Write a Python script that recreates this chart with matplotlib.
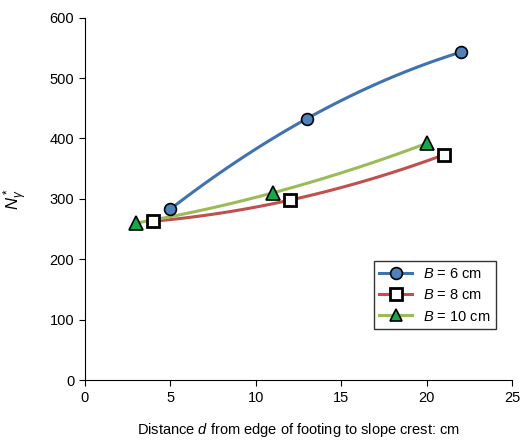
import numpy as np
import matplotlib.pyplot as plt

plt.rcParams['font.family'] = ['Liberation Sans', 'DejaVu Sans']
plt.rcParams['mathtext.fontset'] = 'custom'
plt.rcParams['mathtext.it'] = 'Liberation Sans:italic'
plt.rcParams['mathtext.rm'] = 'Liberation Sans'

x_b6 = [5, 13, 22]
y_b6 = [283, 433, 543]
x_b8 = [4, 12, 21]
y_b8 = [263, 298, 373]
x_b10 = [3, 11, 20]
y_b10 = [260, 310, 392]

series = [
    (x_b6, y_b6, '#3f72b0', 'o', '#4f81bd', '$B$ = 6 cm'),
    (x_b8, y_b8, '#c0504d', 's', 'white', '$B$ = 8 cm'),
    (x_b10, y_b10, '#9bbb59', '^', '#1aa64a', '$B$ = 10 cm'),
]

fig = plt.figure(figsize=(5.2, 4.42), dpi=100)
ax = fig.add_axes([0.163, 0.14, 0.822, 0.82])

for xs, ys, lc, mk, fc, lab in series:
    # smooth curve through the three points
    coef = np.polyfit(xs, ys, 2)
    xx = np.linspace(xs[0], xs[-1], 100)
    ax.plot(xx, np.polyval(coef, xx), color=lc, lw=2.2, zorder=2)
    ax.plot(xs, ys, ls='none', marker=mk, ms=8.5 if mk != '^' else 9.5,
            mfc=fc, mec='black', mew=1.2 if mk != 's' else 2, zorder=3)
    ax.plot([], [], color=lc, lw=2.2, marker=mk, ms=8.5, mfc=fc, mec='black',
            mew=1.2 if mk != 's' else 2, label=lab)

ax.set_xlim(0, 25)
ax.set_ylim(0, 600)
ax.set_xticks(range(0, 26, 5))
ax.set_yticks(range(0, 601, 100))
ax.tick_params(labelsize=10.5, direction='out', length=4)
for s in ['top', 'right']:
    ax.spines[s].set_visible(False)
ax.set_xlabel('Distance $d$ from edge of footing to slope crest: cm',
              fontsize=10.5, labelpad=12)
ax.set_ylabel(r'$N_\gamma^*$', fontsize=12, labelpad=14)
leg = ax.legend(loc='lower right', bbox_to_anchor=(0.98, 0.12), fontsize=10.5,
                fancybox=False, edgecolor='black', handlelength=2.2)
leg.get_frame().set_linewidth(1)

fig.savefig('out.png', dpi=100)
